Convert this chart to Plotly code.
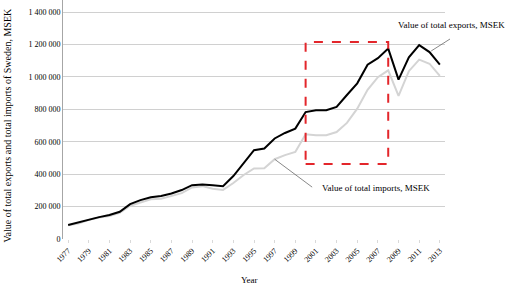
import plotly.graph_objects as go

years = list(range(1977, 2014))
exports = [86000, 103000, 121000, 135000, 148000, 168000, 215000, 240000, 257000, 265000,
           281000, 302000, 332000, 336000, 332000, 326000, 388000, 466000, 548000, 558000,
           620000, 654000, 681000, 783000, 794000, 794000, 815000, 888000, 960000, 1075000,
           1115000, 1174000, 983000, 1120000, 1196000, 1153000, 1075000]
imports = [84000, 95000, 118000, 133000, 142000, 162000, 205000, 225000, 245000, 248000,
           265000, 283000, 318000, 326000, 310000, 303000, 345000, 395000, 435000, 437000,
           492000, 517000, 537000, 646000, 640000, 640000, 660000, 716000, 804000, 920000,
           998000, 1040000, 883000, 1035000, 1106000, 1081000, 1006000]
y_ticks = [0, 200000, 400000, 600000, 800000, 1000000, 1200000, 1400000]
y_tick_labels = ["0", "200 000", "400 000", "600 000", "800 000", "1 000 000", "1 200 000", "1 400 000"]
x_ticks = list(range(1977, 2014, 2))

highlight_years = (2000, 2008)
highlight_values = (462000, 1215000)

FONT = "Liberation Serif"

fig = go.Figure()
fig.add_trace(go.Scatter(x=years, y=imports, mode="lines",
                         line=dict(color="#d4d4d4", width=2), name="Imports"))
fig.add_trace(go.Scatter(x=years, y=exports, mode="lines",
                         line=dict(color="#000000", width=2), name="Exports"))

fig.add_shape(type="rect", xref="x", yref="y",
              x0=highlight_years[0], x1=highlight_years[1],
              y0=highlight_values[0], y1=highlight_values[1],
              line=dict(color="#e3262b", width=2, dash="dash"))

# imports leader line and label
i97 = years.index(1997)
fig.add_annotation(x=1997, y=imports[i97], ax=39, ay=29, axref="pixel", ayref="pixel",
                   text="", showarrow=True, arrowhead=0, arrowwidth=0.7, arrowcolor="#555555")
fig.add_annotation(x=1997, y=imports[i97], xshift=45, yshift=-29, text="Value of total imports, MSEK",
                   showarrow=False, xanchor="left", yanchor="middle",
                   font=dict(family=FONT, size=9, color="#000000"))
# exports leader line and label
i12 = years.index(2012)
fig.add_annotation(x=2012, y=exports[i12], ax=22, ay=-14, axref="pixel", ayref="pixel",
                   text="", showarrow=True, arrowhead=0, arrowwidth=0.7, arrowcolor="#555555",
                   standoff=2)
fig.add_annotation(x=2012, y=exports[i12], xshift=22, yshift=27, text="Value of total exports, MSEK",
                   showarrow=False, xanchor="center", yanchor="middle",
                   font=dict(family=FONT, size=9, color="#000000"))

# y axis title
fig.add_annotation(xref="paper", yref="paper", x=-0.145, y=0.477,
                   text="Value of total exports and total imports of Sweden, MSEK",
                   textangle=-90, showarrow=False, xanchor="center", yanchor="middle",
                   font=dict(family=FONT, size=10, color="#000000"))
# x axis title
fig.add_annotation(xref="x", yref="paper", x=1994.6, y=-0.172,
                   text="Year", showarrow=False, xanchor="center", yanchor="middle",
                   font=dict(family=FONT, size=9, color="#000000"))

fig.update_layout(
    width=509, height=293,
    margin=dict(l=63, r=64, t=0, b=54),
    paper_bgcolor="white", plot_bgcolor="white",
    showlegend=False,
    font=dict(family=FONT, size=8, color="#000000"),
    xaxis=dict(range=[1976.5, 2013.5], tickmode="array", tickvals=x_ticks,
               ticktext=[str(t) for t in x_ticks], tickangle=-45,
               showgrid=False, zeroline=False, showline=False,
               ticks="outside", ticklen=3, tickcolor="#d9d9d9"),
    yaxis=dict(range=[0, 1474000], tickmode="array", tickvals=y_ticks, ticktext=y_tick_labels,
               showgrid=True, gridcolor="#d0d0d0", gridwidth=1, zeroline=False,
               showline=True, linecolor="#a6a6a6", linewidth=1, ticks="", ticklen=0),
)

fig.write_html("out.html")
